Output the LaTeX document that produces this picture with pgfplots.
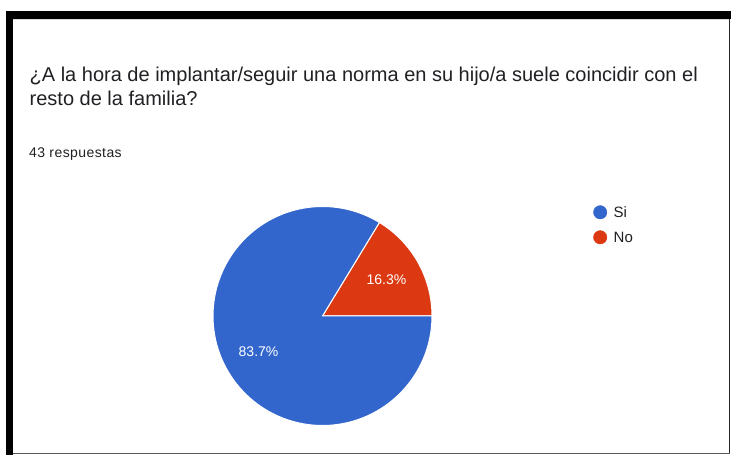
\documentclass[border=0pt]{standalone}
\usepackage{fontspec}
\setmainfont{Liberation Sans}
\usepackage{pgfplots}
\pgfplotsset{compat=1.18}
\definecolor{cSi}{HTML}{3366CC}
\definecolor{cNo}{HTML}{DC3912}
\definecolor{ctxt}{HTML}{202124}
\begin{document}
\begin{tikzpicture}[x=1pt,y=1pt]
% card and frame
\fill[white] (0,0) rectangle (731,455);
\fill[black] (6,0) rectangle (13.3,444);
\fill[black] (6,436) rectangle (731,444);
\fill[black!15] (13.3,435) rectangle (728.5,436);
\fill[black!85] (728.5,1) rectangle (729.7,436);
\fill[black!65] (13.3,1) rectangle (729.7,2);
% title
\node[anchor=base west, inner sep=0pt, text=ctxt, font=\fontsize{20}{24}\selectfont] at (29.5,373.3) {¿A la hora de implantar/seguir una norma en su hijo/a suele coincidir con el};
\node[anchor=base west, inner sep=0pt, text=ctxt, font=\fontsize{20}{24}\selectfont] at (29.5,349.3) {resto de la familia?};
\node[anchor=base west, inner sep=0pt, text=ctxt, font=\fontsize{14}{16}\selectfont\addfontfeature{LetterSpace=3}] at (29,297.3) {43 respuestas};
% data
\def\pNo{16.3}
\def\pSi{83.7}
\pgfmathsetmacro\aNo{\pNo*3.6}
\pgfmathsetmacro\mNo{\aNo/2}
\pgfmathsetmacro\mSi{\aNo+\pSi*1.8}
\begin{axis}[
  at={(322.5pt,139pt)}, anchor=center,
  width=219pt, height=219pt, scale only axis,
  xmin=-1, xmax=1, ymin=-1, ymax=1,
  hide axis, clip=false,
  legend style={draw=none, fill=none, inner sep=0pt, outer sep=0pt,
    row sep=0pt, column sep=6.6pt,
    at={(axis description cs:1.7365,1.0174)}, anchor=north west,
    cells={anchor=base west},
    nodes={inner sep=0pt, text height=15pt, text depth=10pt, text=ctxt,
      font=\fontsize{15}{17}\selectfont}},
]
\addplot[fill=cNo, draw=white, line width=1pt, domain=0:\aNo, samples=40,
  variable=\t, forget plot] ({cos(\t)},{sin(\t)}) -- (axis cs:0,0) -- cycle;
\addplot[fill=cSi, draw=white, line width=1pt, domain=\aNo:360, samples=120,
  variable=\t, forget plot] ({cos(\t)},{sin(\t)}) -- (axis cs:0,0) -- cycle;
\node[text=white, font=\fontsize{14}{16}\selectfont] at (axis cs:{0.67*cos(\mNo)},{0.67*sin(\mNo)}) {16.3\%};
\node[text=white, font=\fontsize{14}{16}\selectfont] at (axis cs:{0.67*cos(\mSi)},{0.67*sin(\mSi)}) {83.7\%};
\addlegendimage{legend image code/.code={\fill[cSi] (0pt,5.4pt) circle (6.7pt);}}
\addlegendentry{Si}
\addlegendimage{legend image code/.code={\fill[cNo] (0pt,5.4pt) circle (6.7pt);}}
\addlegendentry{No}
\end{axis}
\end{tikzpicture}
\end{document}
